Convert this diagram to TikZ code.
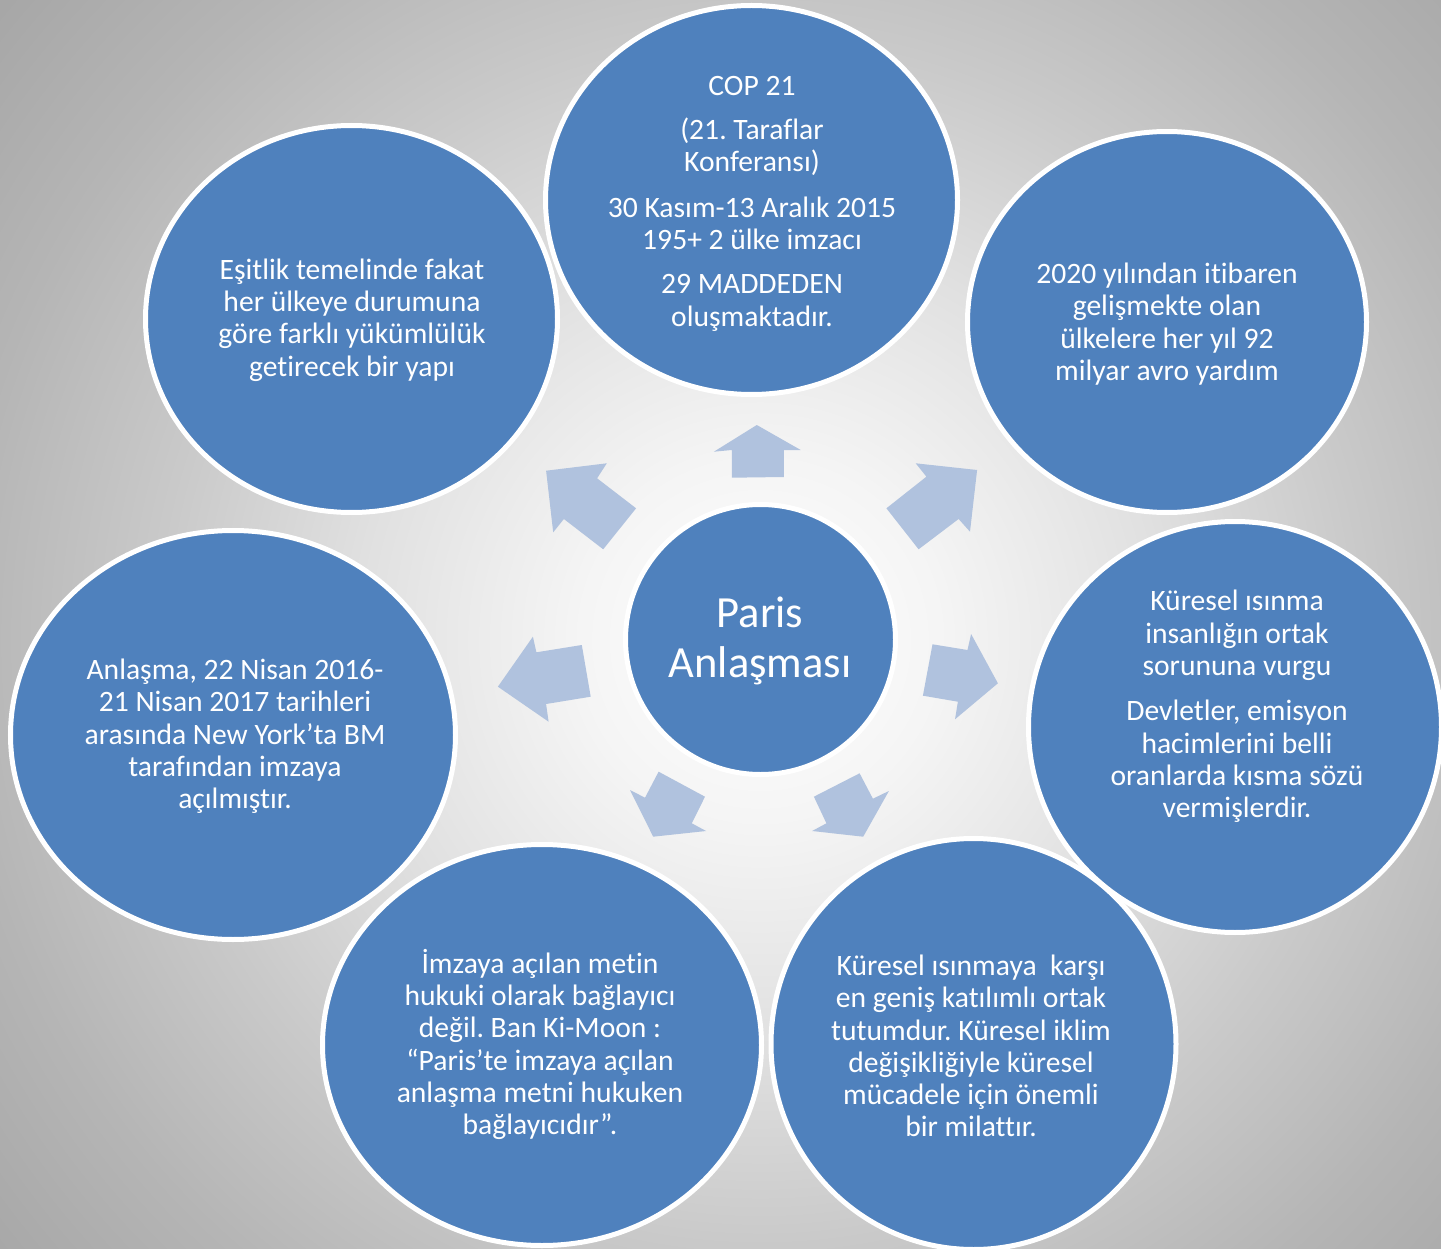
\documentclass[tikz,border=0pt]{standalone}
\usepackage{fontspec}
\setmainfont{Carlito}[Ligatures={NoCommon,TeX}]
\usetikzlibrary{shapes.geometric}
\definecolor{cblue}{HTML}{4F81BD}
\definecolor{ablue}{HTML}{B0C2DE}
\pgfdeclareradialshading{bgshade}{\pgfpoint{0bp}{0bp}}{%
  color(0bp)=(white);
  color(180bp)=(white!96!black);
  color(400bp)=(white!88!black);
  color(600bp)=(white!79!black);
  color(800bp)=(white!71!black);
  color(1000bp)=(white!65!black)}
\tikzset{
  bubble/.style={ellipse, fill=cblue, draw=white, line width=5pt, inner sep=0pt},
  txt/.style={text=white, align=center, inner sep=0pt, font=\fontsize{29.6}{32.3}\selectfont},
  bigtxt/.style={text=white, align=center, inner sep=0pt, font=\fontsize{44.5}{50}\selectfont},
  arr/.style={fill=ablue},
}
\frenchspacing
\begin{document}
\begin{tikzpicture}[x=1pt,y=-1pt]
\useasboundingbox (0,0) rectangle (1441,1249);
\begin{scope}
  \clip (0,0) rectangle (1441,1249);
  \node[inner sep=0pt] (bg) at (760,640) {\pgfuseshading{bgshade}};
\end{scope}

% outer circles
\node[bubble, minimum width=412pt, minimum height=389pt] (c1) at (751.5,200) {};
\node[bubble, minimum width=399pt, minimum height=381pt] (c2) at (1167,322) {};
\node[bubble, minimum width=413pt, minimum height=411pt] (c3) at (1235,727) {};
\node[bubble, minimum width=405pt, minimum height=411pt] (c4) at (973.5,1044) {};
\node[bubble, minimum width=439pt, minimum height=401pt] (c5) at (542,1045) {};
\node[bubble, minimum width=445pt, minimum height=409pt] (c6) at (233,735) {};
\node[bubble, minimum width=412pt, minimum height=387pt] (c7) at (351.5,319) {};
% centre
\node[bubble, minimum width=270pt, minimum height=270pt] (c0) at (760.5,639.5) {};

% block arrows
\fill[arr] (756.8,425) -- (800.7,450) -- (783.9,450) -- (783.9,477) -- (731.8,477.7) -- (731.8,450) -- (713.9,451.7) -- cycle;
\fill[arr] (915.7,463.3) -- (977.1,470) -- (970,531.7) -- (958.6,519) -- (918.6,549.3) -- (886.4,508.3) -- (926.4,476.7) -- cycle;
\fill[arr] (546.1,470.7) -- (606.8,463.3) -- (597.1,478.3) -- (636.1,508.3) -- (603.2,549.3) -- (563.9,519) -- (553.2,532.3) -- cycle;
\fill[arr] (932.5,644.3) -- (967.5,650) -- (971.1,634) -- (997.9,683.3) -- (955,719.3) -- (957.9,701.7) -- (922.9,695.7) -- cycle;
\fill[arr] (581.8,645) -- (590.7,696.7) -- (546.1,704) -- (548.6,721.7) -- (497.9,686.7) -- (532.9,636.7) -- (536.4,652.3) -- cycle;
\fill[arr] (630,790) -- (645,797.7) -- (658.6,771.7) -- (705,796.7) -- (691.8,823.3) -- (706.1,831) -- (653.2,836.7) -- cycle;
\fill[arr] (859.6,773.3) -- (872.9,798.7) -- (888.9,791) -- (863.2,836.7) -- (812.1,831) -- (826.4,823.3) -- (813.9,796.7) -- cycle;

% texts
\node[bigtxt] (t0) at (760,641) {Paris\\Anlaşması};
\node[txt] (t1) at (752,203.5) {COP 21\\[12pt](21. Taraflar\\Konferansı)\\[13pt]30 Kasım-13 Aralık 2015\\195+ 2 ülke imzacı\\[12pt]29 MADDEDEN\\oluşmaktadır.};
\node[txt] (t2) at (1167,324) {2020 yılından itibaren\\gelişmekte olan\\ülkelere her yıl 92\\milyar avro yardım};
\node[txt] (t3) at (1237,706.5) {Küresel ısınma\\insanlığın ortak\\sorununa vurgu\\[13pt]Devletler, emisyon\\hacimlerini belli\\oranlarda kısma sözü\\vermişlerdir.};
\node[txt] (t4) at (971,1046) {Küresel ısınmaya\ \ karşı\\en geniş katılımlı ortak\\tutumdur. Küresel iklim\\değişikliğiyle küresel\\mücadele için önemli\\bir milattır.};
\node[txt] (t5) at (540,1044.5) {İmzaya açılan metin\\hukuki olarak bağlayıcı\\değil. Ban Ki-Moon :\\“Paris’te imzaya açılan\\anlaşma metni hukuken\\bağlayıcıdır”.};
\node[txt] (t6) at (235,736.5) {Anlaşma, 22 Nisan 2016-\\21 Nisan 2017 tarihleri\\arasında New York’ta BM\\tarafından imzaya\\açılmıştır.};
\node[txt] (t7) at (352,320) {Eşitlik temelinde fakat\\her ülkeye durumuna\\göre farklı yükümlülük\\getirecek bir yapı};
\end{tikzpicture}
\end{document}
